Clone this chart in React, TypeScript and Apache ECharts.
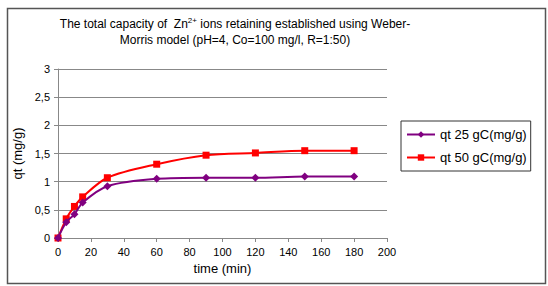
import React, { useEffect, useRef } from "react";
import * as echarts from "echarts";

const times = [0, 5, 10, 15, 30, 60, 90, 120, 150, 180];
const qt25 = [0, 0.28, 0.42, 0.63, 0.92, 1.05, 1.07, 1.07, 1.09, 1.09];
const qt50 = [0, 0.34, 0.56, 0.73, 1.07, 1.31, 1.47, 1.51, 1.55, 1.55];
const seriesNames = ["qt 25 gC(mg/g)", "qt 50 gC(mg/g)"];

const FONT = "Liberation Sans, Arial, sans-serif";

export default function App() {
  const ref = useRef<HTMLDivElement>(null);
  useEffect(() => {
    if (!ref.current) return;
    const chart = echarts.init(ref.current, null, { renderer: "svg" });
    const pair = (ys: number[]) => times.map((t, i) => [t, ys[i]]);
    chart.setOption({
      animation: false,
      backgroundColor: "#ffffff",
      textStyle: { fontFamily: FONT },
      title: {
        text: "{n|The total capacity of  Zn}{sup|2+}{n| ions retaining established using Weber-}\n{n|Morris model (pH=4, Co=100 mg/l, R=1:50)}",
        left: 230,
        top: 11,
        textAlign: "center",
        textStyle: {
          fontWeight: "normal",
          rich: {
            n: { fontFamily: FONT, fontSize: 12, fontWeight: "normal", color: "#000", lineHeight: 16 },
            sup: { fontFamily: FONT, fontSize: 8, fontWeight: "normal", color: "#000", verticalAlign: "top", lineHeight: 16, padding: [0, 0, 6, 0] },
          },
        },
      },
      graphic: [
        {
          type: "rect",
          shape: { x: 7.5, y: 8.5, width: 538, height: 275 },
          style: { fill: "none", stroke: "#555", lineWidth: 1.5 },
          silent: true,
        },
      ],
      legend: {
        orient: "vertical",
        left: 401,
        top: 121,
        data: seriesNames,
        itemWidth: 28,
        itemHeight: 8,
        itemGap: 10,
        padding: [7, 4, 7, 5],
        borderColor: "#333",
        borderWidth: 1,
        textStyle: { fontFamily: FONT, fontSize: 13, color: "#000" },
      },
      grid: { left: 58, right: 161, top: 69, bottom: 48 },
      xAxis: {
        type: "value",
        min: 0,
        max: 200,
        interval: 20,
        name: "time (min)",
        nameLocation: "middle",
        nameGap: 24,
        nameTextStyle: { fontFamily: FONT, fontSize: 13, color: "#000" },
        axisLine: { lineStyle: { color: "#888" } },
        axisTick: { show: true, length: 4, lineStyle: { color: "#888" } },
        axisLabel: { fontFamily: FONT, fontSize: 11, color: "#000", margin: 8 },
        splitLine: { show: false },
      },
      yAxis: {
        type: "value",
        min: 0,
        max: 3,
        interval: 0.5,
        name: "qt (mg/g)",
        nameLocation: "middle",
        nameGap: 32,
        nameRotate: 90,
        nameTextStyle: { fontFamily: FONT, fontSize: 13, color: "#000" },
        axisLine: { show: true, lineStyle: { color: "#888" } },
        axisTick: { show: true, length: 4, lineStyle: { color: "#888" } },
        axisLabel: {
          fontFamily: FONT,
          fontSize: 11,
          color: "#000",
          margin: 8,
          formatter: (v: number) => String(v).replace(".", ","),
        },
        splitLine: { show: true, lineStyle: { color: "#888", width: 1 } },
      },
      series: [
        {
          name: seriesNames[0],
          type: "line",
          data: pair(qt25),
          smooth: 0.3,
          symbol: "diamond",
          symbolSize: 8,
          lineStyle: { color: "#800080", width: 2 },
          itemStyle: { color: "#800080" },
          z: 3,
        },
        {
          name: seriesNames[1],
          type: "line",
          data: pair(qt50),
          smooth: 0.3,
          symbol: "rect",
          symbolSize: 7,
          lineStyle: { color: "#ff0000", width: 2 },
          itemStyle: { color: "#ff0000" },
          z: 2,
        },
      ],
    });
    return () => chart.dispose();
  }, []);
  return (
    <div
      ref={ref}
      style={{ position: "absolute", left: 0, top: 0, width: 548, height: 286 }}
    />
  );
}
